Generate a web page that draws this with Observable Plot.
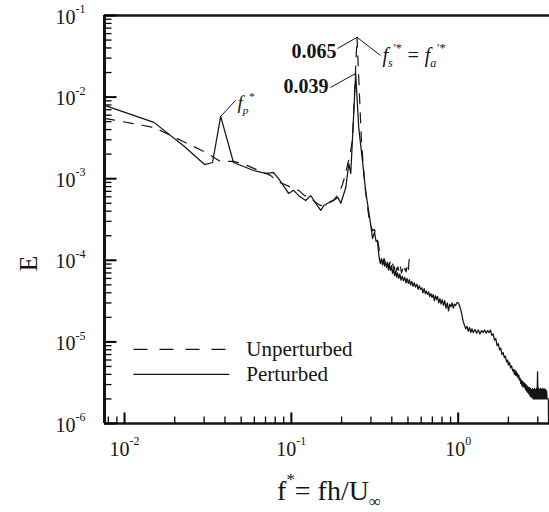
<!DOCTYPE html>
<html><head><meta charset="utf-8">
<script src="https://cdn.jsdelivr.net/npm/d3@7"></script>
<script src="https://cdn.jsdelivr.net/npm/@observablehq/plot@0.6"></script>
<style>html,body{margin:0;padding:0;background:#fff}svg{display:block}</style>
</head><body><div id="chart"></div>
<script>
// Perturbed case: [f*, E]
const perturbed = [[0.0076,7.9e-3],[0.015,4.9e-3],[0.0225,2.55e-3],[0.0302,1.49e-3],[0.0337,1.58e-3],[0.0377,5.8e-3],[0.045,1.58e-3],[0.0594,1.26e-3],[0.0701,1.16e-3],[0.0783,1.19e-3],[0.0839,1.0e-3],[0.0963,6.6e-4],[0.1032,7.2e-4],[0.1106,6.2e-4],[0.1219,5.4e-4],[0.1306,6.2e-4],[0.14,5.0e-4],[0.15,4.1e-4],[0.157,4.7e-4],[0.165,5.0e-4],[0.176,5.3e-4],[0.19,5.9e-4],[0.198,5.0e-4],[0.212,7.8e-4],[0.221,1.53e-3],[0.227,1.16e-3],[0.243,1.95e-2],[0.2535,4.2e-3],[0.268,1.53e-3],[0.279,7.0e-4],[0.286,5.0e-4],[0.3,2.6e-4],[0.3065,1.85e-4],[0.315,2.2e-4],[0.322,1.7e-4],[0.328,1.75e-4],[0.333,1.25e-4],[0.338,1.0e-4],[0.342,9.1e-5],[0.347,1.05e-4],[0.352,8.8e-5],[0.357,1.0e-4],[0.362,8.5e-5],[0.367,9.6e-5],[0.372,8.2e-5],[0.377,9.3e-5],[0.382,7.6e-5],[0.387,8.9e-5],[0.393,7.5e-5],[0.398,8.6e-5],[0.404,6.9e-5],[0.41,7.8e-5],[0.416,6.5e-5],[0.422,7.4e-5],[0.428,6.2e-5],[0.433,7.0e-5],[0.44,6.0e-5],[0.447,6.8e-5],[0.454,5.7e-5],[0.461,6.4e-5],[0.47,5.6e-5],[0.478,6.2e-5],[0.486,5.3e-5],[0.494,6.0e-5],[0.502,5.2e-5],[0.51,5.8e-5],[0.518,5.0e-5],[0.527,5.5e-5],[0.536,4.8e-5],[0.545,5.3e-5],[0.555,4.7e-5],[0.565,5.1e-5],[0.575,4.4e-5],[0.585,4.9e-5],[0.595,4.4e-5],[0.605,4.6e-5],[0.615,4.0e-5],[0.625,4.5e-5],[0.635,3.9e-5],[0.645,4.2e-5],[0.655,3.8e-5],[0.665,4.1e-5],[0.675,3.6e-5],[0.686,3.9e-5],[0.697,3.5e-5],[0.708,3.8e-5],[0.72,3.2e-5],[0.73,3.7e-5],[0.742,3.3e-5],[0.752,3.6e-5],[0.765,3.0e-5],[0.777,3.4e-5],[0.79,2.9e-5],[0.803,3.3e-5],[0.817,2.8e-5],[0.83,3.2e-5],[0.845,2.6e-5],[0.86,3.0e-5],[0.875,2.4e-5],[0.89,2.9e-5],[0.905,2.7e-5],[0.92,3.0e-5],[0.935,2.6e-5],[0.95,2.9e-5],[0.965,2.8e-5],[0.98,3.0e-5],[0.995,3.05e-5],[1.01,2.9e-5],[1.03,2.6e-5],[1.05,2.2e-5],[1.07,1.8e-5],[1.09,1.6e-5],[1.11,1.45e-5],[1.13,1.55e-5],[1.15,1.35e-5],[1.17,1.5e-5],[1.19,1.3e-5],[1.21,1.45e-5],[1.23,1.3e-5],[1.26,1.42e-5],[1.29,1.28e-5],[1.32,1.4e-5],[1.35,1.25e-5],[1.38,1.38e-5],[1.41,1.3e-5],[1.44,1.4e-5],[1.47,1.28e-5],[1.5,1.38e-5],[1.53,1.3e-5],[1.56,1.4e-5],[1.59,1.2e-5],[1.62,1.25e-5],[1.65,1.05e-5],[1.68,1.1e-5],[1.71,9.0e-6],[1.74,9.5e-6],[1.77,8.0e-6],[1.8,8.4e-6],[1.83,7.0e-6],[1.86,7.4e-6],[1.89,6.4e-6],[1.92,6.7e-6],[1.95,5.7e-6],[1.98,6.0e-6],[2.0,5.2e-6],[2.03,5.6e-6],[2.06,4.8e-6],[2.09,5.1e-6],[2.12,4.4e-6],[2.15,4.6e-6],[2.17,4.0e-6],[2.19,4.5e-6],[2.21,3.9e-6],[2.23,4.3e-6],[2.25,3.8e-6],[2.27,4.1e-6],[2.29,3.6e-6],[2.31,3.9e-6],[2.33,3.4e-6],[2.35,3.6e-6],[2.37,3.1e-6],[2.39,3.4e-6],[2.41,2.9e-6],[2.43,3.3e-6],[2.45,2.8e-6],[2.47,3.2e-6],[2.49,2.8e-6],[2.51,3.1e-6],[2.53,2.6e-6],[2.55,3.0e-6],[2.57,2.5e-6],[2.59,2.9e-6],[2.61,2.4e-6],[2.63,2.8e-6],[2.65,2.3e-6],[2.67,2.75e-6],[2.69,2.2e-6],[2.71,2.7e-6],[2.73,2.1e-6],[2.75,2.6e-6],[2.77,2.1e-6],[2.79,2.7e-6],[2.81,2.0e-6],[2.83,2.6e-6],[2.85,2.0e-6],[2.87,2.7e-6],[2.89,2.0e-6],[2.91,2.6e-6],[2.93,2.0e-6],[2.95,2.7e-6],[2.97,2.0e-6],[2.99,4.3e-6],[3.01,2.0e-6],[3.03,2.7e-6],[3.05,2.0e-6],[3.07,2.6e-6],[3.09,2.0e-6],[3.11,2.7e-6],[3.13,2.0e-6],[3.15,2.6e-6],[3.17,2.0e-6],[3.19,2.7e-6],[3.21,2.0e-6],[3.23,2.6e-6],[3.25,2.0e-6],[3.27,2.7e-6],[3.29,2.0e-6],[3.31,2.6e-6],[3.33,2.0e-6],[3.35,2.6e-6],[3.37,2.0e-6],[3.39,2.5e-6],[3.41,2.0e-6],[3.43,2.0e-6],[3.47,2.0e-6],[3.48,9e-7]];

// Unperturbed case: [f*, E]
const unperturbed = [[0.0076,5.5e-3],[0.015,4.25e-3],[0.0225,2.86e-3],[0.03,2.15e-3],[0.0375,1.63e-3],[0.045,1.63e-3],[0.0525,1.5e-3],[0.06,1.33e-3],[0.0675,1.2e-3],[0.075,1.1e-3],[0.0825,9.2e-4],[0.09,8.6e-4],[0.0975,8.0e-4],[0.105,7.6e-4],[0.1125,7.0e-4],[0.12,6.2e-4],[0.1275,6.0e-4],[0.135,5.4e-4],[0.1425,5.0e-4],[0.15,4.7e-4],[0.1575,4.6e-4],[0.165,4.9e-4],[0.1725,5.3e-4],[0.18,5.5e-4],[0.1875,6.1e-4],[0.195,7.0e-4],[0.2025,8.5e-4],[0.21,1.1e-3],[0.2175,1.5e-3],[0.225,2.0e-3],[0.2325,3.0e-3],[0.2475,5.4e-2],[0.2625,3.2e-3],[0.27,1.4e-3],[0.2775,7.5e-4],[0.285,4.8e-4],[0.2925,3.2e-4],[0.3,2.6e-4],[0.3075,2.3e-4],[0.315,2.4e-4],[0.3225,1.9e-4],[0.33,1.7e-4],[0.3375,1.3e-4],[0.345,1.05e-4],[0.3525,9.5e-5],[0.36,1.05e-4],[0.3675,8.8e-5],[0.375,9.8e-5],[0.3825,8.4e-5],[0.39,9.5e-5],[0.3975,8.0e-5],[0.405,9.0e-5],[0.4125,7.6e-5],[0.42,9.2e-5],[0.4275,7.4e-5],[0.435,8.3e-5],[0.4425,7.2e-5],[0.45,8.5e-5],[0.4575,7.0e-5],[0.465,7.8e-5],[0.4725,6.8e-5],[0.48,8.0e-5],[0.4875,7.2e-5],[0.495,8.6e-5],[0.5025,7.4e-5],[0.51,1.15e-4]];

const xMajor = [0.01, 0.1, 1];
const xMajorExp = ["-2", "-1", "0"];
const yMajor = [1e-6, 1e-5, 1e-4, 1e-3, 1e-2, 1e-1];
const yMajorExp = ["-6", "-5", "-4", "-3", "-2", "-1"];
const minorMult = [2, 3, 4, 5, 6, 7, 8, 9];
const xMinor = [0.008, 0.009, ...minorMult.map(m => m * 0.01), ...minorMult.map(m => m * 0.1), 2, 3];
const yMinor = [1e-6, 1e-5, 1e-4, 1e-3, 1e-2].flatMap(d => minorMult.map(m => m * d));

const legendLabels = ["Unperturbed", "Perturbed"];
const peakLabels = ["0.065", "0.039"];
const xTitle = "f^{*}= fh/U_{∞}";
const yTitle = "E";
const fpLabel = "f_{p}^{*}";
const fsLabel = "f_{s}^{'*} = f_{a}^{'*}";

// layout (data-space anchors for annotations / legend)
const xDomain = [0.007586, 3.526];
const yDomain = [1e-6, 1e-1];
const legendX = [0.01132, 0.0425];
const legendRowE = [8.1e-6, 4.0e-6];
const end065 = [0.189, 0.0394];
const end039 = [0.1716, 0.01312];
const fsPt = [0.342, 0.0324];
const fpPt = [0.0463, 0.00909];

const toObj = ([f, E]) => ({f, E});
const P = perturbed.map(toObj);
const U = unperturbed.map(toObj);
const maxBy = (arr) => arr.reduce((a, b) => (b.E > a.E ? b : a));
const dPeak = maxBy(U), sPeak = maxBy(P), pPeak = maxBy(P.filter(d => d.f > 0.03 && d.f < 0.1));
const leaders = [
  [end065, [dPeak.f, dPeak.E]],
  [[dPeak.f, dPeak.E], fsPt],
  [end039, [sPeak.f, sPeak.E]],
  [[pPeak.f, pPeak.E], fpPt]
];

const W = 549, H = 512, mL = 104, mR = 0, mT = 15, mB = 89;
const plotW = W - mL - mR, plotH = H - mT - mB;
const ink = "#151515";
// inward tick ends, expressed in data units of the log scales
const xTickEnd = (px) => xDomain[0] * Math.pow(xDomain[1] / xDomain[0], px / plotW);
const yTickEnd = (px) => yDomain[0] * Math.pow(yDomain[1] / yDomain[0], px / plotH);
const xTicks = (vals, len) => vals.map(v => ({x1: v, x2: v, y1: yDomain[0], y2: yTickEnd(len)}));
const yTicks = (vals, len) => vals.map(v => ({x1: xDomain[0], x2: xTickEnd(len), y1: v, y2: v}));
const seg = {x1: "x1", x2: "x2", y1: "y1", y2: "y2", stroke: "#000"};

const chart = Plot.plot({
  width: W, height: H, marginLeft: mL, marginRight: mR, marginTop: mT, marginBottom: mB,
  x: {type: "log", domain: xDomain, axis: null},
  y: {type: "log", domain: yDomain, axis: null},
  style: {fontFamily: "'Liberation Serif','Times New Roman',serif", background: "#fff", color: ink},
  marks: [
    Plot.line(U, {x: "f", y: "E", stroke: ink, strokeWidth: 1.2, strokeDasharray: "10,9", clip: true}),
    Plot.line(P, {x: "f", y: "E", stroke: ink, strokeWidth: 1.25, clip: true}),
    Plot.text(xMajor, {x: d => d, frameAnchor: "bottom", text: (d, i) => `10^{${xMajorExp[i]}}`, fontSize: 20, textAnchor: "middle", lineAnchor: "bottom", dy: 32, fill: ink}),
    Plot.text(yMajor, {y: d => d, frameAnchor: "left", text: (d, i) => `10^{${yMajorExp[i]}}`, fontSize: 20, textAnchor: "end", lineAnchor: "bottom", dx: -19, dy: 8, fill: ink}),
    Plot.text([xTitle], {frameAnchor: "bottom", text: d => d, fontSize: 28, textAnchor: "middle", lineAnchor: "bottom", dx: 2, dy: 76, fill: ink}),
    Plot.text([yTitle], {frameAnchor: "left", text: d => d, fontSize: 26, rotate: -90, dx: -75.5, dy: 52, fill: ink}),
    // legend
    Plot.link([legendRowE[0]], {x1: () => legendX[0], x2: () => legendX[1], y1: d => d, y2: d => d, stroke: ink, strokeWidth: 1.1, strokeDasharray: "14,12"}),
    Plot.link([legendRowE[1]], {x1: () => legendX[0], x2: () => legendX[1], y1: d => d, y2: d => d, stroke: ink, strokeWidth: 1.1}),
    Plot.text(legendLabels, {x: () => legendX[1], y: (d, i) => legendRowE[i], text: d => d, fontSize: 21, textAnchor: "start", dx: 17, fill: ink}),
    // annotations
    Plot.link(leaders, {x1: d => d[0][0], y1: d => d[0][1], x2: d => d[1][0], y2: d => d[1][1], stroke: ink, strokeWidth: 1}),
    Plot.text([end065], {x: d => d[0], y: d => d[1], text: () => peakLabels[0], fontSize: 20, fontWeight: "bold", textAnchor: "end", lineAnchor: "bottom", dx: -1, dy: 9, fill: ink}),
    Plot.text([end039], {x: d => d[0], y: d => d[1], text: () => peakLabels[1], fontSize: 20, fontWeight: "bold", textAnchor: "end", lineAnchor: "bottom", dx: -2, dy: 6, fill: ink}),
    Plot.text([fpPt], {x: d => d[0], y: d => d[1], text: () => fpLabel, fontSize: 19, fontStyle: "italic", textAnchor: "start", lineAnchor: "bottom", dx: 2, dy: 9, fill: ink}),
    Plot.text([fsPt], {x: d => d[0], y: d => d[1], text: () => fsLabel, fontSize: 20, fontStyle: "italic", textAnchor: "start", lineAnchor: "bottom", dx: 2, dy: 7, fill: ink}),
    // frame and inward ticks (drawn last)
    Plot.ruleX([xDomain[0]], {stroke: ink, strokeWidth: 3}),
    Plot.ruleY(yDomain, {stroke: ink, strokeWidth: 2.5}),
    Plot.link(xTicks(xMajor, 11), {...seg, strokeWidth: 2}),
    Plot.link(xTicks(xMinor, 7), {...seg, strokeWidth: 1.3}),
    Plot.link(yTicks(yMajor, 12), {...seg, strokeWidth: 2}),
    Plot.link(yTicks(yMinor, 7), {...seg, strokeWidth: 1.3})
  ]
});

document.getElementById("chart").append(chart);

// turn ^{..} / _{..} markup into superscript / subscript tspans
function richify(root) {
  const NS = "http://www.w3.org/2000/svg";
  root.querySelectorAll("text").forEach(t => {
    const s = t.textContent;
    if (!/[\^_]\{/.test(s)) return;
    const fs = parseFloat(getComputedStyle(t).fontSize) || 16;
    t.textContent = "";
    let shift = 0, m;
    const re = /([\^_])\{([^}]*)\}|([^\^_]+)/g;
    while ((m = re.exec(s))) {
      const ts = document.createElementNS(NS, "tspan");
      let target, txt;
      if (m[1]) {
        target = m[1] === "^" ? -0.52 * fs : 0.25 * fs;
        txt = m[2];
        ts.setAttribute("font-size", (0.6 * fs).toFixed(1));
      } else { target = 0; txt = m[3]; }
      const dy = target - shift;
      if (dy) ts.setAttribute("dy", dy.toFixed(1));
      shift = target;
      ts.setAttribute("xml:space", "preserve");
      ts.textContent = txt;
      t.appendChild(ts);
    }
  });
}
richify(chart);
</script>
</body></html>
